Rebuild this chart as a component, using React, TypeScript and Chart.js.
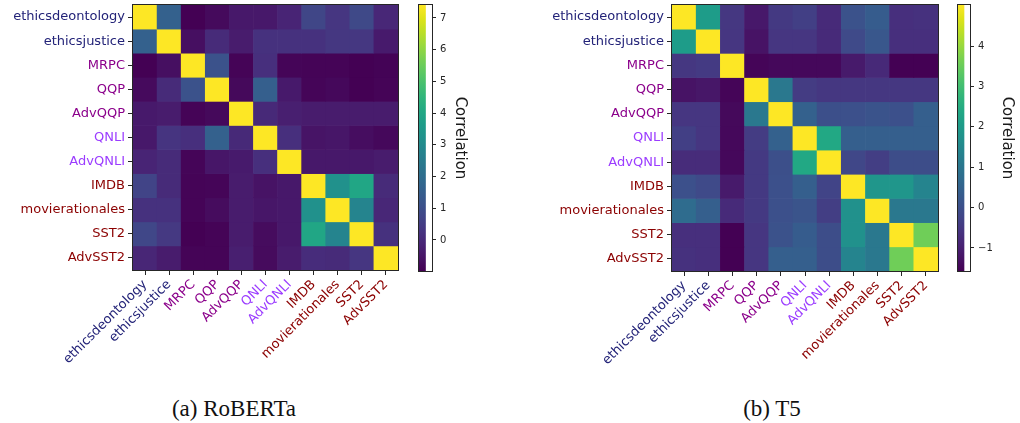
import React, { useEffect, useRef } from "react";
import { Chart, registerables } from "chart.js";

Chart.register(...registerables);
Chart.defaults.font.family = "'DejaVu Sans', sans-serif";

// ---------------- data ----------------
const TASKS = [
  "ethicsdeontology",
  "ethicsjustice",
  "MRPC",
  "QQP",
  "AdvQQP",
  "QNLI",
  "AdvQNLI",
  "IMDB",
  "movierationales",
  "SST2",
  "AdvSST2",
];
const TASK_GROUP = ["ethics", "ethics", "para", "para", "para", "nli", "nli", "sent", "sent", "sent", "sent"];

const ROBERTA_CORR = [
  [7.41, 1.6, -0.98, -0.78, -0.43, -0.43, -0.14, 0.75, 0.32, 0.85, -0.06],
  [1.6, 7.41, -0.66, 0.03, -0.35, 0.19, 0.19, 0.19, 0.36, 0.36, -0.39],
  [-0.98, -0.66, 7.41, 1.12, -0.9, 0.15, -0.88, -0.9, -0.9, -0.98, -0.93],
  [-0.77, 0.03, 1.12, 7.41, -0.8, 1.54, -0.41, -0.88, -0.81, -0.97, -0.9],
  [-0.41, -0.35, -0.9, -0.8, 7.41, -0.02, -0.27, -0.35, -0.35, -0.35, -0.35],
  [-0.43, 0.28, 0.15, 1.6, -0.02, 7.41, 0.15, -0.54, -0.48, -0.69, -0.81],
  [-0.14, 0.03, -0.88, -0.48, -0.39, 0.15, 7.41, -0.43, -0.43, -0.43, -0.35],
  [0.7, 0.03, -0.9, -0.88, -0.35, -0.56, -0.43, 7.41, 3.22, 4.0, 0.03],
  [0.19, 0.19, -0.9, -0.73, -0.35, -0.48, -0.43, 3.22, 7.41, 2.8, -0.06],
  [0.78, 0.4, -0.98, -0.9, -0.35, -0.73, -0.43, 4.0, 2.8, 7.41, 0.19],
  [-0.1, -0.35, -0.9, -0.9, -0.27, -0.75, -0.35, 0.07, 0.03, 0.32, 7.41],
];

const T5_CORR = [
  [5.02, 2.05, -0.52, -1.14, -0.48, -0.35, -0.78, 0.08, 0.34, -0.68, -0.65],
  [2.05, 5.02, -0.55, -1.24, -0.55, -0.55, -0.78, -0.12, 0.21, -0.68, -0.68],
  [-0.52, -0.45, 5.02, -1.49, -1.44, -1.44, -1.44, -1.11, -0.81, -1.57, -1.57],
  [-1.24, -1.17, -1.49, 5.02, 1.07, -0.42, -0.52, -0.52, -0.52, -0.52, -0.52],
  [-0.55, -0.55, -1.43, 1.07, 5.02, 0.47, 0.01, 0.04, 0.11, 0.04, 0.41],
  [-0.35, -0.55, -1.44, -0.42, 0.47, 5.02, 2.38, 0.41, 0.41, 0.41, 0.41],
  [-0.75, -0.75, -1.44, -0.48, 0.01, 2.38, 5.02, -0.19, -0.38, -0.05, -0.05],
  [0.04, -0.12, -1.11, -0.48, 0.04, 0.41, -0.25, 5.02, 1.86, 1.86, 1.4],
  [0.74, 0.41, -0.78, -0.48, 0.04, 0.14, -0.38, 1.73, 5.02, 1.07, 1.07],
  [-0.68, -0.68, -1.57, -0.55, 0.08, 0.34, -0.05, 1.73, 1.07, 5.02, 3.57],
  [-0.65, -0.68, -1.57, -0.55, 0.41, 0.41, -0.05, 1.4, 1.07, 3.57, 5.02],
];

const ROBERTA_CBAR_TICKS = [0, 1, 2, 3, 4, 5, 6, 7];
const T5_CBAR_TICKS = [-1, 0, 1, 2, 3, 4];
const CBAR_LABEL = "Correlation";
const CAPTION_A = "(a) RoBERTa";
const CAPTION_B = "(b) T5";

// ---------------- styles ----------------
const GROUP_COLOR: Record<string, string> = {
  ethics: "#232378",
  para: "#8b008b",
  nli: "#9b3cff",
  sent: "#8b0000",
};

const VIRIDIS = [
  "#440154", "#471365", "#482475", "#463480", "#414487", "#3b528b", "#355f8d",
  "#2f6c8e", "#2a788e", "#25848e", "#21918c", "#1e9c89", "#22a884", "#2fb47c",
  "#44bf70", "#5ec962", "#7ad151", "#9bd93c", "#bddf26", "#dfe318", "#fde725",
];

function hexToRgb(h: string) {
  return [parseInt(h.slice(1, 3), 16), parseInt(h.slice(3, 5), 16), parseInt(h.slice(5, 7), 16)];
}

function viridis(t: number) {
  const tt = Math.max(0, Math.min(1, t));
  const pos = tt * (VIRIDIS.length - 1);
  const i = Math.min(VIRIDIS.length - 2, Math.floor(pos));
  const f = pos - i;
  const a = hexToRgb(VIRIDIS[i]);
  const b = hexToRgb(VIRIDIS[i + 1]);
  const c = a.map((v, k) => Math.round(v + (b[k] - v) * f));
  return `rgb(${c[0]},${c[1]},${c[2]})`;
}

const framePlugin = {
  id: "frame",
  afterDraw(chart: any) {
    const { ctx, chartArea: a } = chart;
    ctx.save();
    ctx.strokeStyle = "#262626";
    ctx.lineWidth = 1;
    const l = Math.round(a.left) - 0.5;
    const t = Math.round(a.top) - 0.5;
    const r = Math.round(a.right) + 0.5;
    const b = Math.round(a.bottom) + 0.5;
    ctx.strokeRect(l, t, r - l, b - t);
    ctx.restore();
  },
};

const fmt = (v: number) => (v < 0 ? "\u2212" + Math.abs(v) : String(v));

const zeroPad = (s: any) => {
  s.paddingTop = 0;
  s.paddingBottom = 0;
  s.paddingLeft = 0;
  s.paddingRight = 0;
};

function Heatmap(props: { matrix: number[][]; left: number; width: number; height: number; yAxisWidth: number; areaBottom: number }) {
  const ref = useRef<HTMLCanvasElement>(null);
  useEffect(() => {
    const { matrix, width, height, yAxisWidth, areaBottom } = props;
    const flat = matrix.flat();
    const vmin = Math.min(...flat);
    const vmax = Math.max(...flat);
    const colorOf = (i: number) => GROUP_COLOR[TASK_GROUP[i]];
    const chart = new Chart(ref.current!, {
      type: "bar",
      data: {
        labels: TASKS,
        datasets: matrix.map((row, r) => ({
          data: row.map(() => [r, r + 1]),
          backgroundColor: row.map((v) => viridis((v - vmin) / (vmax - vmin))),
          borderWidth: 0,
          barPercentage: 1,
          categoryPercentage: 1,
          grouped: false,
        })) as any,
      },
      options: {
        animation: false,
        responsive: false,
        events: [],
        layout: { padding: { top: 5, right: 2, left: 0, bottom: 0 } },
        plugins: { legend: { display: false }, tooltip: { enabled: false } },
        scales: {
          x: {
            type: "category",
            offset: true,
            grid: { offset: false, drawOnChartArea: false, drawTicks: true, tickLength: 5, color: "#262626" },
            border: { display: false },
            ticks: {
              autoSkip: false,
              minRotation: 45,
              maxRotation: 45,
              padding: 2,
              font: { size: 13 },
              color: (ctx: any) => colorOf(ctx.index),
            },
            afterFit: (s: any) => {
              s.height = height - areaBottom;
              zeroPad(s);
            },
          },
          y: {
            type: "linear",
            min: 0,
            max: TASKS.length,
            reverse: true,
            afterBuildTicks: (s: any) => {
              s.ticks = TASKS.map((_, i) => ({ value: i + 0.5 }));
            },
            grid: { drawOnChartArea: false, drawTicks: true, tickLength: 5, color: "#262626" },
            border: { display: false },
            ticks: {
              autoSkip: false,
              padding: 3,
              font: { size: 13 },
              callback: (v: any) => TASKS[Math.floor(Number(v))],
              color: (ctx: any) => colorOf(Math.floor(ctx.tick.value)),
            },
            afterFit: (s: any) => {
              s.width = yAxisWidth;
              zeroPad(s);
            },
          },
        },
      },
      plugins: [framePlugin],
    });
    return () => chart.destroy();
  }, []);
  return (
    <canvas
      ref={ref}
      width={props.width}
      height={props.height}
      style={{ position: "absolute", left: props.left, top: 0, width: props.width, height: props.height }}
    />
  );
}

function Colorbar(props: { matrix: number[][]; ticks: number[]; left: number; width: number; height: number; padLeft: number; axisWidth: number; areaBottom: number }) {
  const ref = useRef<HTMLCanvasElement>(null);
  useEffect(() => {
    const { matrix, ticks, height, padLeft, axisWidth, areaBottom } = props;
    const flat = matrix.flat();
    const vmin = Math.min(...flat);
    const vmax = Math.max(...flat);
    const chart = new Chart(ref.current!, {
      type: "bar",
      data: {
        labels: [""],
        datasets: [
          {
            data: [[vmin, vmax]] as any,
            borderWidth: 0,
            barPercentage: 1,
            categoryPercentage: 1,
            backgroundColor: (ctx: any) => {
              const a = ctx.chart.chartArea;
              if (!a) return "transparent";
              const g = ctx.chart.ctx.createLinearGradient(0, a.bottom, 0, a.top);
              VIRIDIS.forEach((c, i) => g.addColorStop(i / (VIRIDIS.length - 1), c));
              return g;
            },
          },
        ],
      },
      options: {
        animation: false,
        responsive: false,
        events: [],
        layout: { padding: { top: 5, left: padLeft, right: 0, bottom: height - areaBottom } },
        plugins: { legend: { display: false }, tooltip: { enabled: false } },
        scales: {
          x: { display: false, offset: false },
          y: {
            type: "linear",
            position: "right",
            min: vmin,
            max: vmax,
            afterBuildTicks: (s: any) => {
              s.ticks = ticks.map((v) => ({ value: v }));
            },
            grid: { drawOnChartArea: false, drawTicks: true, tickLength: 4, color: "#262626" },
            border: { display: false },
            ticks: { padding: 4, font: { size: 10 }, color: "#262626", callback: (v: any) => fmt(Number(v)) },
            title: { display: true, text: CBAR_LABEL, font: { size: 15 }, color: "#1a1a1a", padding: 4 },
            afterFit: (s: any) => {
              s.width = axisWidth;
              zeroPad(s);
            },
          },
        },
      },
      plugins: [framePlugin],
    });
    return () => chart.destroy();
  }, []);
  return (
    <canvas
      ref={ref}
      width={props.width}
      height={props.height}
      style={{ position: "absolute", left: props.left, top: 0, width: props.width, height: props.height }}
    />
  );
}

function Caption(props: { text: string; center: number }) {
  return (
    <div
      style={{
        position: "absolute",
        left: props.center - 150,
        width: 300,
        top: 397,
        textAlign: "center",
        fontFamily: "'Liberation Serif', 'Times New Roman', serif",
        fontSize: 23,
        lineHeight: "23px",
        color: "#111",
        whiteSpace: "nowrap",
      }}
    >
      {props.text}
    </div>
  );
}

export default function App() {
  return (
    <div style={{ position: "absolute", left: 0, top: 0, width: 1020, height: 423, background: "#fff", overflow: "hidden" }}>
      <Heatmap matrix={ROBERTA_CORR} left={0} width={400} height={395} yAxisWidth={133} areaBottom={270} />
      <Colorbar matrix={ROBERTA_CORR} ticks={ROBERTA_CBAR_TICKS} left={410} width={63} height={280} padLeft={9} axisWidth={41} areaBottom={271} />
      <Heatmap matrix={T5_CORR} left={530} width={410} height={395} yAxisWidth={142} areaBottom={271} />
      <Colorbar matrix={T5_CORR} ticks={T5_CBAR_TICKS} left={950} width={70} height={280} padLeft={8} axisWidth={50} areaBottom={271} />
      <Caption text={CAPTION_A} center={234} />
      <Caption text={CAPTION_B} center={772} />
    </div>
  );
}
